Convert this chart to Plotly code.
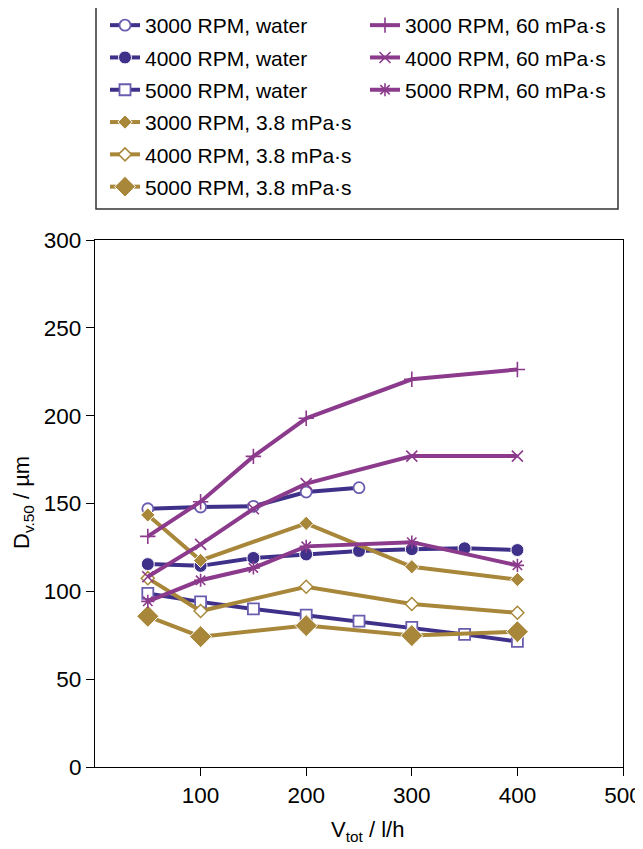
import plotly.graph_objects as go

# Volume flow rate V_tot / l/h
x_water_3000 = [50, 100, 150, 200, 250]
y_water_3000 = [147, 148, 148.4, 156.5, 159]
x_water_4000 = [50, 100, 150, 200, 250, 300, 350, 400]
y_water_4000 = [115.5, 114.5, 119, 121, 123, 124, 124.5, 123.5]
x_water_5000 = [50, 100, 150, 200, 250, 300, 350, 400]
y_water_5000 = [98.8, 94, 90, 86.5, 83, 79.5, 75.5, 71.5]

x_38 = [50, 100, 200, 300, 400]
y_38_3000 = [143.5, 117.6, 138.7, 114, 106.7]
y_38_4000 = [107.5, 88.8, 102.6, 92.8, 87.8]
y_38_5000 = [85.8, 74.2, 80.5, 74.8, 77]

x_60 = [50, 100, 150, 200, 300, 400]
y_60_3000 = [131.3, 151, 176.8, 198.5, 220.7, 226.3]
y_60_4000 = [108.3, 126.7, 147, 161.3, 177, 177]
y_60_5000 = [94.3, 106.3, 113.3, 125.6, 128, 114.8]

x_ticks = [100, 200, 300, 400, 500]
y_ticks = [0, 50, 100, 150, 200, 250, 300]

x_title = "V<sub>tot</sub> / l/h"
y_title = "D<sub>v.50</sub> / µm"

BLUE = "#3f318a"
BLUE_L = "#6a5cae"
GOLD = "#a8873a"
PURPLE = "#8b3a8c"

FONT = "Liberation Sans, Arial, sans-serif"

fig = go.Figure()

def add(x, y, name, color, symbol, size, mfill, mline, mlw, legend, group):
    fig.add_trace(go.Scatter(
        x=x, y=y, name=name, mode="lines+markers",
        line=dict(color=color, width=4),
        marker=dict(symbol=symbol, size=size, color=mfill,
                    line=dict(color=mline, width=mlw)),
        legend=legend, legendgroup=group,
    ))

add(x_water_3000, y_water_3000, "3000 RPM, water", BLUE, "circle", 11, "white", BLUE_L, 1.8, "legend", "a1")
add(x_water_4000, y_water_4000, "4000 RPM, water", BLUE, "circle", 13, BLUE, "white", 1, "legend", "a2")
add(x_water_5000, y_water_5000, "5000 RPM, water", BLUE, "square", 11, "white", BLUE_L, 1.8, "legend", "a3")
add(x_38, y_38_3000, "3000 RPM, 3.8 mPa·s", GOLD, "diamond", 11, GOLD, "white", 1, "legend", "a4")
add(x_38, y_38_4000, "4000 RPM, 3.8 mPa·s", GOLD, "diamond", 10, "white", GOLD, 1.5, "legend", "a5")
add(x_38, y_38_5000, "5000 RPM, 3.8 mPa·s", GOLD, "diamond", 17, GOLD, "white", 1, "legend", "a6")
add(x_60, y_60_3000, "3000 RPM, 60 mPa·s", PURPLE, "cross-thin-open", 11, PURPLE, PURPLE, 1.6, "legend2", "b1")
add(x_60, y_60_4000, "4000 RPM, 60 mPa·s", PURPLE, "x-thin-open", 11, PURPLE, PURPLE, 1.6, "legend2", "b2")
add(x_60, y_60_5000, "5000 RPM, 60 mPa·s", PURPLE, "asterisk-open", 11, PURPLE, PURPLE, 1.6, "legend2", "b3")

legend_common = dict(
    xref="paper", yref="paper", xanchor="left", yanchor="top",
    font=dict(family=FONT, size=21, color="black"),
    bgcolor="rgba(0,0,0,0)", borderwidth=0, tracegroupgap=2,
    itemwidth=30,
)

# legend box outline (paper coords: plot x 94..622 px, y 239..766 px)
fig.add_shape(type="rect", xref="paper", yref="paper",
              x0=(95 - 94) / 528, x1=(617 - 94) / 528,
              y0=(766 - 208) / 527, y1=(766 - 3) / 527,
              line=dict(color="#333333", width=1.5))

fig.add_annotation(text=x_title, xref="paper", yref="paper",
                   x=(366 - 94) / 528, y=(766 - 830) / 527,
                   xanchor="center", yanchor="middle", showarrow=False,
                   font=dict(family=FONT, size=22, color="black"))
fig.add_annotation(text=y_title, xref="paper", yref="paper",
                   x=(22 - 94) / 528, y=(766 - 502) / 527, textangle=-90,
                   xanchor="center", yanchor="middle", showarrow=False,
                   font=dict(family=FONT, size=22, color="black"))

fig.update_layout(
    width=643, height=849,
    margin=dict(l=87, r=28, t=232, b=90, autoexpand=False),
    paper_bgcolor="white", plot_bgcolor="white",
    font=dict(family=FONT, size=22.5, color="black"),
    showlegend=True,
    legend=dict(x=(104 - 94) / 528, y=(766 - 4) / 527, **legend_common),
    legend2=dict(x=(364 - 94) / 528, y=(766 - 4) / 527, **legend_common),
    xaxis=dict(range=[0, 500], tickvals=x_ticks, ticks="outside", ticklen=8,
               tickcolor="black", showline=True, linecolor="black", linewidth=1.2,
               mirror=True, showgrid=False, zeroline=False),
    yaxis=dict(range=[0, 300], tickvals=y_ticks, ticks="outside", ticklen=8,
               tickcolor="black", showline=True, linecolor="black", linewidth=1.2,
               mirror=True, showgrid=False, zeroline=False),
)

fig.write_html("out.html")
